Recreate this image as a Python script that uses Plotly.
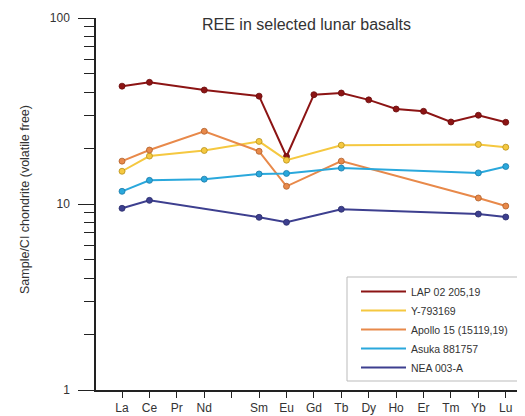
import plotly.graph_objects as go

elements = ["La", "Ce", "Pr", "Nd", "Pm", "Sm", "Eu", "Gd", "Tb", "Dy", "Ho", "Er", "Tm", "Yb", "Lu"]
tick_labels = ["La", "Ce", "Pr", "Nd", "", "Sm", "Eu", "Gd", "Tb", "Dy", "Ho", "Er", "Tm", "Yb", "Lu"]

lap_el = ["La", "Ce", "Nd", "Sm", "Eu", "Gd", "Tb", "Dy", "Ho", "Er", "Tm", "Yb", "Lu"]
lap_val = [43.0, 45.1, 41.0, 38.0, 18.0, 38.7, 39.5, 36.3, 32.4, 31.5, 27.6, 30.0, 27.5]

y79_el = ["La", "Ce", "Nd", "Sm", "Eu", "Tb", "Yb", "Lu"]
y79_val = [15.0, 18.1, 19.4, 21.7, 17.2, 20.7, 20.9, 20.2]

a15_el = ["La", "Ce", "Nd", "Sm", "Eu", "Tb", "Yb", "Lu"]
a15_val = [17.0, 19.5, 24.6, 19.2, 12.45, 17.0, 10.77, 9.75]

asu_el = ["La", "Ce", "Nd", "Sm", "Eu", "Tb", "Yb", "Lu"]
asu_val = [11.7, 13.4, 13.6, 14.5, 14.6, 15.6, 14.7, 15.9]

nea_el = ["La", "Ce", "Sm", "Eu", "Tb", "Yb", "Lu"]
nea_val = [9.48, 10.46, 8.48, 7.97, 9.37, 8.83, 8.51]

series = [
    ("LAP 02 205,19", lap_el, lap_val, "#8c1414", "#8c1414", "#6a0c0c"),
    ("Y-793169", y79_el, y79_val, "#f5c840", "#f5c840", "#b8901a"),
    ("Apollo 15 (15119,19)", a15_el, a15_val, "#e8894a", "#e8894a", "#b0602a"),
    ("Asuka 881757", asu_el, asu_val, "#2aa8dc", "#2aa8dc", "#1a7aa8"),
    ("NEA 003-A", nea_el, nea_val, "#3d3f8f", "#3d3f8f", "#2a2c6a"),
]

idx = {e: i for i, e in enumerate(elements)}

# page body has an 8px margin; figure coordinates are screen coordinates minus 8
W, H = 517, 408
L, R, T, B = 88, 8, 10, 26
PW, PH = W - L - R, H - T - B


def px(xs):
    return (xs - 8 - L) / PW


def py(ys):
    return (H - B - (ys - 8)) / PH


fig = go.Figure()
for name, els, vals, lc, mc, oc in series:
    xs = [idx[e] for e in els]
    fig.add_trace(go.Scatter(x=xs, y=vals, mode="lines", name=name,
                             line=dict(color=lc, width=2), legendgroup=name))
    fig.add_trace(go.Scatter(x=xs, y=vals, mode="markers", name=name, showlegend=False,
                             legendgroup=name,
                             marker=dict(color=mc, size=6, line=dict(color=oc, width=0.8))))

fig.update_layout(
    width=W, height=H,
    margin=dict(l=L, r=R, t=T, b=B, autoexpand=False),
    paper_bgcolor="white", plot_bgcolor="white",
    font=dict(family="Liberation Sans, Arial, sans-serif", color="#333333", size=12),
    title=dict(text="REE in selected lunar basalts", x=0.5, xanchor="center", xref="paper",
               y=1 - 16 / H, yanchor="middle",
               font=dict(size=16, color="#333333")),
    legend=dict(x=px(356), y=py(277), xanchor="left", yanchor="top",
                borderwidth=0, bgcolor="rgba(0,0,0,0)",
                font=dict(size=10.5, color="#333333"), tracegroupgap=0, itemwidth=45),
    showlegend=True,
    shapes=[dict(type="rect", xref="paper", yref="paper",
                 x0=px(347), x1=px(540), y0=py(381), y1=py(277),
                 line=dict(color="#bbbbbb", width=1), fillcolor="white", layer="below")],
    annotations=[dict(text="Sample/CI chondrite (volatile free)", xref="paper", yref="paper",
                      x=px(25), y=py(200), xanchor="center", yanchor="middle",
                      textangle=-90, showarrow=False,
                      font=dict(size=12.5, color="#333333"))],
)
fig.update_xaxes(
    range=[-0.95, 14.41], tickmode="array", tickvals=list(range(len(elements))),
    ticktext=tick_labels, showline=True, linecolor="#222222", linewidth=1.5,
    ticks="outside", ticklen=6, tickcolor="#222222", tickwidth=1.2,
    showgrid=False, zeroline=False, tickfont=dict(size=12, color="#333333"),
)
fig.update_yaxes(
    type="log", range=[0, 2], tickvals=[1, 10, 100], ticktext=["1", "10", "100"],
    showline=True, linecolor="#222222", linewidth=1.5,
    ticks="outside", ticklen=16, tickcolor="#222222", tickwidth=1.2,
    ticklabelstandoff=6,
    minor=dict(ticks="outside", ticklen=10, tickcolor="#222222", tickwidth=1.2,
               tickvals=[2, 3, 4, 5, 6, 7, 8, 9, 20, 30, 40, 50, 60, 70, 80, 90], showgrid=False),
    showgrid=False, zeroline=False, tickfont=dict(size=12, color="#333333"),
)
fig.write_html("out.html")
